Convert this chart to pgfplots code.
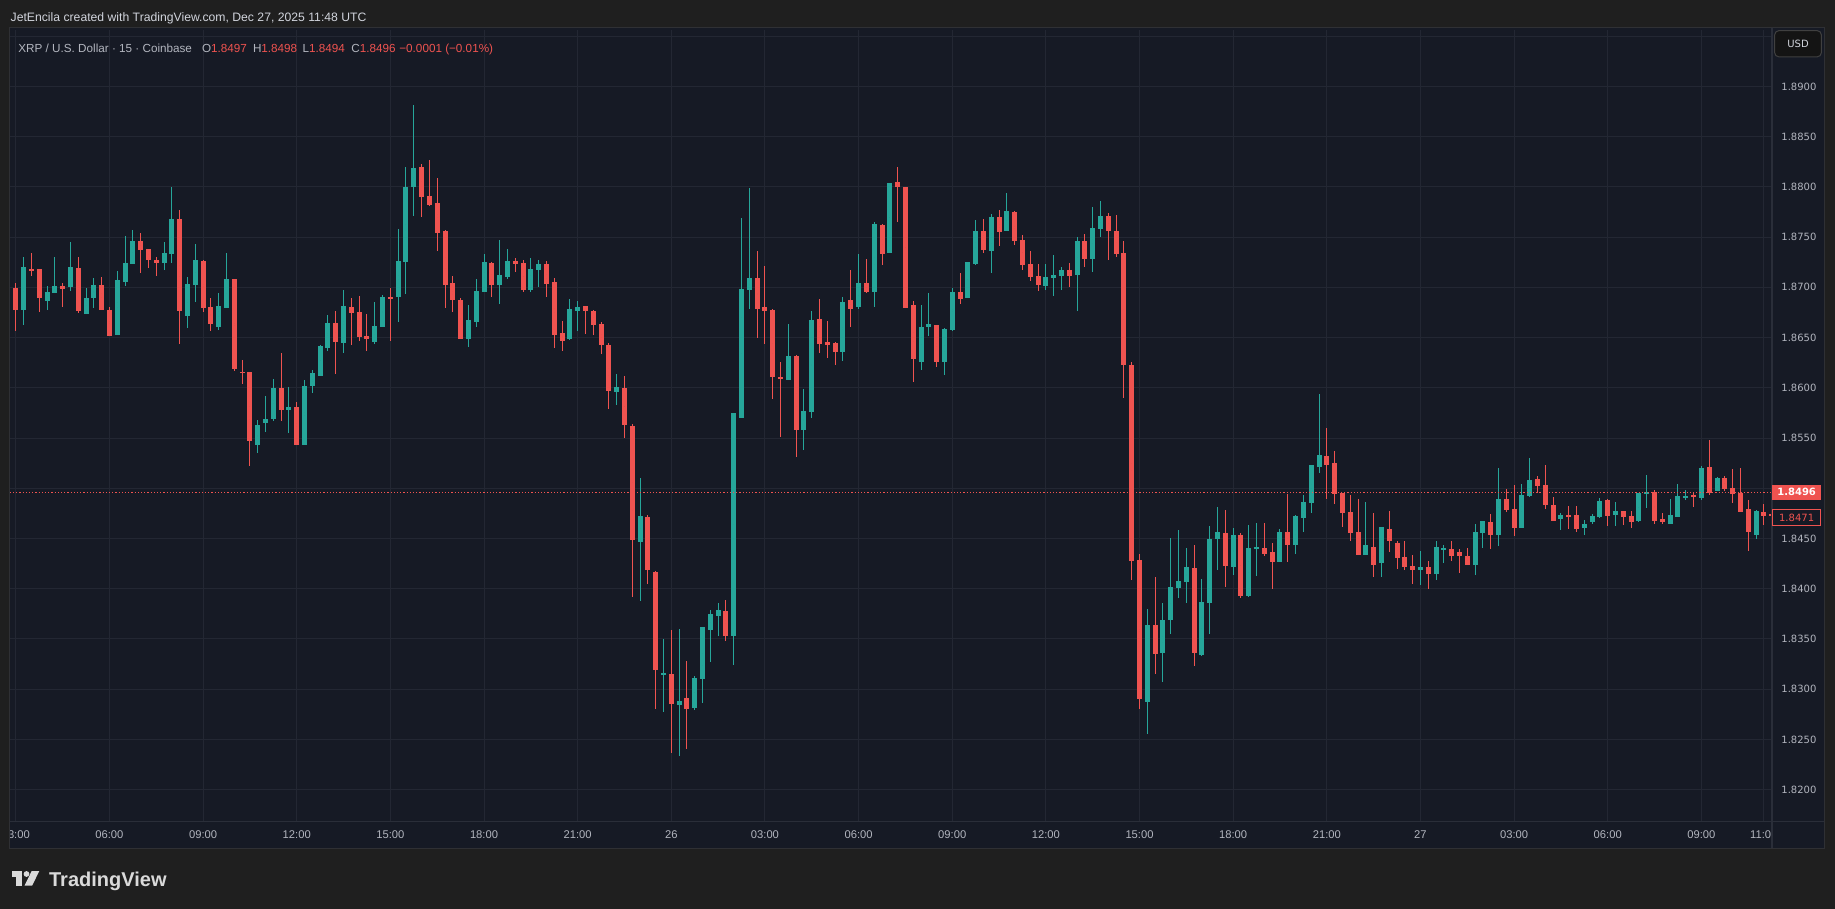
\documentclass[border=0pt]{standalone}
\usepackage{pgfplots}
\pgfplotsset{compat=1.18}
\usepackage{pgfplotstable}
\usepackage{fontspec}
\setmainfont{Liberation Sans}
\newfontfamily\dejavu{DejaVu Sans}
\definecolor{outerbg}{HTML}{1F1F1F}
\definecolor{panel}{HTML}{161A25}
\definecolor{gridc}{HTML}{232733}
\definecolor{sepc}{HTML}{2A2E39}
\definecolor{pborder}{HTML}{2F3034}
\definecolor{cgreen}{HTML}{26A69A}
\definecolor{cred}{HTML}{EF5350}
\definecolor{lab}{HTML}{B2B5BE}
\definecolor{hdr}{HTML}{D1D4DC}
\definecolor{logoc}{HTML}{DADADA}

\pgfplotstableread{
k O H L C
1 1.86773 1.87303 1.86623 1.87203
4 1.86867 1.87013 1.86773 1.86953
5 1.86947 1.87303 1.86947 1.87013
7 1.87003 1.87453 1.86967 1.87203
9 1.86737 1.86993 1.86737 1.86893
10 1.86897 1.87093 1.86797 1.87023
13 1.86527 1.87163 1.86527 1.87073
14 1.87053 1.87513 1.87013 1.87243
15 1.87233 1.87573 1.87233 1.87463
19 1.87247 1.87453 1.87173 1.87343
20 1.87333 1.88003 1.87243 1.87683
22 1.86717 1.87103 1.86597 1.87033
23 1.87023 1.87433 1.86853 1.87273
26 1.86607 1.86943 1.86577 1.86813
27 1.86797 1.87343 1.86797 1.87083
31 1.85427 1.85683 1.85347 1.85633
32 1.85647 1.85923 1.85557 1.85693
33 1.85687 1.86083 1.85667 1.85993
35 1.85777 1.86013 1.85547 1.85813
37 1.85427 1.86083 1.85427 1.86013
38 1.86013 1.86173 1.85953 1.86143
39 1.86123 1.86423 1.86123 1.86413
40 1.86393 1.86723 1.86363 1.86643
42 1.86443 1.86973 1.86343 1.86813
46 1.86453 1.86853 1.86433 1.86613
47 1.86603 1.86923 1.86603 1.86903
49 1.86903 1.87583 1.86653 1.87263
50 1.87253 1.88193 1.86933 1.88003
51 1.88003 1.88813 1.87713 1.88193
58 1.86483 1.86823 1.86403 1.86673
59 1.86653 1.87083 1.86603 1.86963
60 1.86953 1.87333 1.86953 1.87253
62 1.87023 1.87473 1.86833 1.87123
63 1.87103 1.87383 1.87083 1.87263
66 1.86973 1.87294 1.86950 1.87183
67 1.87176 1.87275 1.87004 1.87233
71 1.86485 1.86885 1.86473 1.86786
72 1.86767 1.86866 1.86565 1.86805
77 1.85954 1.86134 1.85835 1.86004
80 1.84466 1.85103 1.83877 1.84725
83 1.83142 1.83504 1.82779 1.83162
85 1.82847 1.83604 1.82340 1.82885
87 1.82817 1.83131 1.82798 1.83108
88 1.83100 1.83615 1.82863 1.83615
89 1.83585 1.83788 1.83269 1.83746
90 1.83734 1.83857 1.83527 1.83788
92 1.83527 1.85754 1.83246 1.85754
93 1.85704 1.87695 1.85704 1.86985
94 1.86973 1.87992 1.86786 1.87095
99 1.86083 1.86633 1.86083 1.86313
101 1.85583 1.85983 1.85383 1.85773
102 1.85763 1.86763 1.85703 1.86673
106 1.86353 1.86903 1.86263 1.86853
108 1.86803 1.87333 1.86783 1.87043
110 1.86953 1.87653 1.86803 1.87633
112 1.87343 1.88043 1.87343 1.88043
116 1.86253 1.86823 1.86183 1.86603
117 1.86603 1.86943 1.86513 1.86633
119 1.86253 1.86593 1.86133 1.86583
120 1.86573 1.86993 1.86563 1.86953
122 1.86893 1.87253 1.86893 1.87253
123 1.87233 1.87673 1.87223 1.87563
125 1.87363 1.87733 1.87143 1.87703
127 1.87563 1.87943 1.87563 1.87763
132 1.87018 1.87236 1.86978 1.87105
133 1.87098 1.87326 1.86917 1.87127
134 1.87116 1.87207 1.86978 1.87178
136 1.87127 1.87504 1.86768 1.87464
138 1.87286 1.87804 1.87156 1.87594
139 1.87583 1.87862 1.87496 1.87714
145 1.82870 1.83797 1.82555 1.83638
147 1.83359 1.83859 1.83069 1.83689
148 1.83689 1.84504 1.83547 1.84018
149 1.84007 1.84584 1.83906 1.84076
150 1.84065 1.84406 1.83859 1.84218
152 1.83341 1.84098 1.83330 1.83866
153 1.83859 1.84623 1.83547 1.84497
154 1.84497 1.84815 1.84185 1.84565
156 1.84218 1.84605 1.84138 1.84536
158 1.83928 1.84634 1.83917 1.84406
159 1.84395 1.84656 1.84127 1.84417
162 1.84263 1.84593 1.84263 1.84563
164 1.84433 1.84733 1.84343 1.84723
165 1.84703 1.84933 1.84563 1.84863
166 1.84853 1.85233 1.84753 1.85233
167 1.85213 1.85943 1.85153 1.85333
173 1.84333 1.84863 1.84333 1.84433
175 1.84253 1.84613 1.84113 1.84613
180 1.84183 1.84373 1.84033 1.84213
182 1.84143 1.84473 1.84083 1.84413
183 1.84393 1.84433 1.84253 1.84403
187 1.84233 1.84643 1.84133 1.84563
188 1.84553 1.84673 1.84403 1.84673
190 1.84533 1.85203 1.84423 1.84893
193 1.84603 1.85043 1.84603 1.84933
194 1.84923 1.85303 1.84913 1.85083
198 1.84693 1.84753 1.84583 1.84733
201 1.84603 1.84683 1.84533 1.84643
202 1.84663 1.84743 1.84643 1.84723
203 1.84713 1.84903 1.84703 1.84873
205 1.84733 1.84863 1.84623 1.84773
208 1.84673 1.84953 1.84663 1.84953
209 1.84943 1.85133 1.84803 1.84963
212 1.84643 1.84893 1.84643 1.84733
213 1.84713 1.85043 1.84713 1.84923
214 1.84913 1.84983 1.84883 1.84923
216 1.84903 1.85223 1.84883 1.85203
218 1.84973 1.85113 1.84973 1.85103
223 1.84533 1.84783 1.84493 1.84773
}\greentab

\pgfplotstableread{
k O H L C
0 1.86993 1.87040 1.86563 1.86773
2 1.87183 1.87343 1.87117 1.87167
3 1.87183 1.87183 1.86753 1.86897
6 1.87013 1.87043 1.86807 1.86987
8 1.87193 1.87303 1.86743 1.86763
11 1.87023 1.87103 1.86773 1.86773
12 1.86773 1.86803 1.86517 1.86517
16 1.87463 1.87543 1.87143 1.87373
17 1.87383 1.87383 1.87193 1.87273
18 1.87273 1.87303 1.87113 1.87247
21 1.87683 1.87773 1.86437 1.86763
24 1.87263 1.87273 1.86753 1.86797
25 1.86803 1.86893 1.86567 1.86637
28 1.87083 1.87083 1.86167 1.86187
29 1.86163 1.86273 1.86037 1.86147
30 1.86153 1.86153 1.85227 1.85467
34 1.86003 1.86343 1.85667 1.85777
36 1.85813 1.85863 1.85427 1.85427
41 1.86643 1.86763 1.86143 1.86453
43 1.86803 1.86893 1.86423 1.86743
44 1.86753 1.86913 1.86463 1.86503
45 1.86513 1.86733 1.86363 1.86483
48 1.86903 1.86993 1.86463 1.86883
52 1.88203 1.88233 1.87703 1.87903
53 1.87913 1.88273 1.87813 1.87823
54 1.87843 1.88093 1.87363 1.87543
55 1.87563 1.87573 1.86793 1.87023
56 1.87043 1.87113 1.86753 1.86873
57 1.86873 1.86893 1.86483 1.86483
61 1.87243 1.87253 1.86903 1.87023
64 1.87263 1.87294 1.87153 1.87233
65 1.87244 1.87275 1.86950 1.86973
68 1.87233 1.87263 1.86905 1.87034
69 1.87053 1.87095 1.86397 1.86527
70 1.86546 1.86664 1.86366 1.86466
73 1.86817 1.86817 1.86534 1.86767
74 1.86767 1.86779 1.86527 1.86626
75 1.86637 1.86656 1.86336 1.86427
76 1.86427 1.86446 1.85791 1.85966
78 1.86004 1.86115 1.85504 1.85635
79 1.85623 1.85638 1.83915 1.84485
81 1.84714 1.84733 1.84045 1.84183
82 1.84172 1.84172 1.82802 1.83192
84 1.83154 1.83585 1.82363 1.82855
86 1.82916 1.83277 1.82408 1.82798
91 1.83776 1.83888 1.83477 1.83527
95 1.87095 1.87363 1.86496 1.86786
96 1.86803 1.87213 1.86437 1.86763
97 1.86773 1.86783 1.85893 1.86103
98 1.86113 1.86253 1.85513 1.86093
100 1.86313 1.86323 1.85313 1.85583
103 1.86683 1.86883 1.86343 1.86433
104 1.86453 1.86663 1.86293 1.86423
105 1.86443 1.86453 1.86223 1.86353
107 1.86873 1.87173 1.86603 1.86783
109 1.87043 1.87283 1.86943 1.86953
111 1.87623 1.87633 1.87223 1.87333
113 1.88053 1.88193 1.87653 1.88003
114 1.88003 1.88003 1.86793 1.86793
115 1.86823 1.86863 1.86063 1.86283
118 1.86623 1.86623 1.86203 1.86253
121 1.86953 1.87143 1.86833 1.86883
124 1.87563 1.87683 1.87343 1.87373
126 1.87703 1.87773 1.87413 1.87553
128 1.87754 1.87764 1.87417 1.87464
129 1.87475 1.87525 1.87178 1.87225
130 1.87236 1.87366 1.87058 1.87105
131 1.87116 1.87236 1.86967 1.87025
135 1.87178 1.87246 1.87007 1.87116
137 1.87464 1.87536 1.87207 1.87286
140 1.87714 1.87743 1.87275 1.87565
141 1.87565 1.87725 1.87304 1.87337
142 1.87344 1.87464 1.85902 1.86225
143 1.86228 1.86261 1.84087 1.84276
144 1.84286 1.84344 1.82805 1.82902
146 1.83638 1.84116 1.83149 1.83348
151 1.84207 1.84435 1.83228 1.83359
155 1.84554 1.84783 1.84018 1.84228
157 1.84536 1.84554 1.83910 1.83928
160 1.84403 1.84653 1.84323 1.84343
161 1.84363 1.84453 1.84003 1.84263
163 1.84563 1.84943 1.84263 1.84433
168 1.85323 1.85603 1.84893 1.85233
169 1.85253 1.85373 1.84843 1.84943
170 1.84953 1.84953 1.84613 1.84753
171 1.84763 1.84933 1.84473 1.84553
172 1.84563 1.84893 1.84333 1.84333
174 1.84413 1.84753 1.84113 1.84233
176 1.84593 1.84773 1.84363 1.84473
177 1.84453 1.84473 1.84193 1.84303
178 1.84313 1.84473 1.84183 1.84213
179 1.84223 1.84333 1.84043 1.84183
181 1.84213 1.84273 1.84003 1.84143
184 1.84393 1.84473 1.84273 1.84323
185 1.84363 1.84393 1.84153 1.84323
186 1.84323 1.84403 1.84233 1.84233
189 1.84663 1.84743 1.84393 1.84533
191 1.84893 1.84993 1.84763 1.84783
192 1.84793 1.85033 1.84523 1.84603
195 1.85093 1.85123 1.84953 1.85023
196 1.85033 1.85233 1.84793 1.84833
197 1.84833 1.84913 1.84673 1.84673
199 1.84733 1.84823 1.84593 1.84713
200 1.84733 1.84823 1.84563 1.84593
204 1.84883 1.84893 1.84623 1.84723
206 1.84773 1.84773 1.84633 1.84713
207 1.84723 1.84773 1.84603 1.84663
210 1.84963 1.84983 1.84643 1.84673
211 1.84693 1.84753 1.84643 1.84663
215 1.84933 1.84963 1.84813 1.84913
217 1.85213 1.85483 1.84933 1.84953
219 1.85103 1.85123 1.84973 1.84993
220 1.85003 1.85193 1.84853 1.84943
221 1.84953 1.85203 1.84763 1.84763
222 1.84793 1.84883 1.84373 1.84563
224 1.84763 1.84843 1.84633 1.84723
225 1.84745 1.84760 1.84720 1.84730
}\redtab

\pgfplotsset{
  candle/.style n args={2}{only marks, mark=*, mark size=0pt, mark options={draw=none, fill=none}, forget plot,
    error bars/y dir=both, error bars/y explicit, error bars/error mark=none,
    error bars/error bar style={draw=#1, line width=#2}},
}

\begin{document}
\begin{tikzpicture}
\fill[outerbg] (0pt,0pt) rectangle (917.5pt,-454.5pt);
\path[use as bounding box] (0pt,0pt) rectangle (917.5pt,-454.5pt);
\fill[panel] (4.8pt,-14pt) rectangle (912pt,-424pt);
\begin{axis}[
  at={(5pt,-410.7pt)}, anchor=south west,
  scale only axis, width=881pt, height=395.7pt,
  xmin=-0.743, xmax=225.05, ymin=1.816836, ymax=1.895614,
  axis line style={draw=none},
  major tick length=0pt,
  grid=major, major grid style={draw=gridc, line width=0.5pt},
  xtick={0,12,24,36,48,60,72,84,96,108,120,132,144,156,168,180,192,204,216,224},
  xticklabels={03:00,06:00,09:00,12:00,15:00,18:00,21:00,26,03:00,06:00,09:00,12:00,15:00,18:00,21:00,27,03:00,06:00,09:00,11:00},
  ytick={1.82,1.825,1.83,1.835,1.84,1.845,1.85,1.855,1.86,1.865,1.87,1.875,1.88,1.885,1.89,1.895},
  yticklabels={1.8200,1.8250,1.8300,1.8350,1.8400,1.8450,,1.8550,1.8600,1.8650,1.8700,1.8750,1.8800,1.8850,1.8900,},
  yticklabel pos=right,
  yticklabel style={anchor=west, inner sep=0pt, xshift=4.5pt, text=lab, font=\dejavu\fontsize{5pt}{6pt}\selectfont},
  xticklabel style={anchor=center, inner sep=0pt, yshift=-6.45pt, text=lab, font=\fontsize{5.6pt}{6pt}\selectfont},
  clip=true,
]
% green wicks and bodies
\addplot[candle={cgreen}{0.5pt}]
  table[x=k, y expr={(\thisrow{H}+\thisrow{L})/2}, y error expr={(\thisrow{H}-\thisrow{L})/2}] {\greentab};
\addplot[candle={cgreen}{2.5pt}]
  table[x=k, y expr={(\thisrow{O}+\thisrow{C})/2}, y error expr={max(abs(\thisrow{C}-\thisrow{O})/2,0.00005)}] {\greentab};
% red wicks and bodies
\addplot[candle={cred}{0.5pt}]
  table[x=k, y expr={(\thisrow{H}+\thisrow{L})/2}, y error expr={(\thisrow{H}-\thisrow{L})/2}] {\redtab};
\addplot[candle={cred}{2.5pt}]
  table[x=k, y expr={(\thisrow{O}+\thisrow{C})/2}, y error expr={max(abs(\thisrow{O}-\thisrow{C})/2,0.00005)}] {\redtab};
% last price line
\addplot[cred, line width=0.5pt, dash pattern=on 0.6pt off 1pt, forget plot] coordinates {(-2,1.8496) (230,1.8496)};
\end{axis}
% cover label overflow
\fill[outerbg] (0pt,-405pt) rectangle (4.8pt,-430pt);
\fill[panel] (886pt,-410.7pt) rectangle (912pt,-424pt);
% borders and separators
\draw[pborder, line width=0.5pt] (4.8pt,-14pt) rectangle (912pt,-424pt);
\draw[sepc, line width=0.6pt] (886pt,-14pt) -- (886pt,-424pt);
\draw[sepc, line width=0.6pt] (4.8pt,-410.7pt) -- (912pt,-410.7pt);
% price labels
\fill[cred] (886.2pt,-242.3pt) rectangle (910.35pt,-249.85pt);
\node[inner sep=0pt, text=white, font=\dejavu\bfseries\fontsize{5pt}{6pt}\selectfont] at (898.3pt,-246.1pt) {1.8496};
\filldraw[fill=panel, draw=cred, line width=0.5pt] (886.45pt,-254.8pt) rectangle (910.1pt,-262.9pt);
\node[inner sep=0pt, text=cred, font=\dejavu\fontsize{5pt}{6pt}\selectfont] at (898.3pt,-258.85pt) {1.8471};
% USD box
\filldraw[fill=black!92!white, draw=white!25!black, line width=0.5pt, rounded corners=2pt] (887.35pt,-15.35pt) rectangle (910.65pt,-28.4pt);
\node[inner sep=0pt, text=hdr, font=\dejavu\fontsize{5pt}{6pt}\selectfont] at (899pt,-21.9pt) {USD};
% header
\node[anchor=base west, inner sep=0pt, text=hdr, font=\fontsize{6.1pt}{7pt}\selectfont] at (5.15pt,-10.9pt) {JetEncila created with TradingView.com, Dec 27, 2025 11:48 UTC};
% legend
\node[anchor=base west, inner sep=0pt, text=lab, font=\fontsize{5.85pt}{7pt}\selectfont] at (9pt,-26.4pt) {XRP / U.S. Dollar · 15 · Coinbase};
\node[anchor=base west, inner sep=0pt, font=\fontsize{5.85pt}{7pt}\selectfont] at (100.85pt,-26.4pt) {\textcolor{lab}{O}\textcolor{cred}{1.8497}};
\node[anchor=base west, inner sep=0pt, font=\fontsize{5.85pt}{7pt}\selectfont] at (126.3pt,-26.4pt) {\textcolor{lab}{H}\textcolor{cred}{1.8498}};
\node[anchor=base west, inner sep=0pt, font=\fontsize{5.85pt}{7pt}\selectfont] at (151.15pt,-26.4pt) {\textcolor{lab}{L}\textcolor{cred}{1.8494}};
\node[anchor=base west, inner sep=0pt, font=\fontsize{5.85pt}{7pt}\selectfont] at (175.5pt,-26.4pt) {\textcolor{lab}{C}\textcolor{cred}{1.8496}};
\node[anchor=base west, inner sep=0pt, text=cred, font=\fontsize{5.85pt}{7pt}\selectfont] at (199.5pt,-26.4pt) {−0.0001 (−0.01\%)};
% logo
\begin{scope}[shift={(5.85pt,-435.5pt)}]
\fill[logoc] (0pt,0pt) rectangle (5pt,-2.8pt);
\fill[logoc] (2.3pt,0pt) rectangle (5pt,-7.35pt);
\fill[logoc] (7.4pt,-1.5pt) circle (1.45pt);
\fill[logoc] (10pt,0pt) -- (13.8pt,0pt) -- (10.2pt,-7.35pt) -- (6.4pt,-7.35pt) -- cycle;
\end{scope}
\node[anchor=base west, inner sep=0pt, text=logoc, font=\bfseries\fontsize{10pt}{12pt}\selectfont] at (24.35pt,-443pt) {TradingView};
\end{tikzpicture}
\end{document}
